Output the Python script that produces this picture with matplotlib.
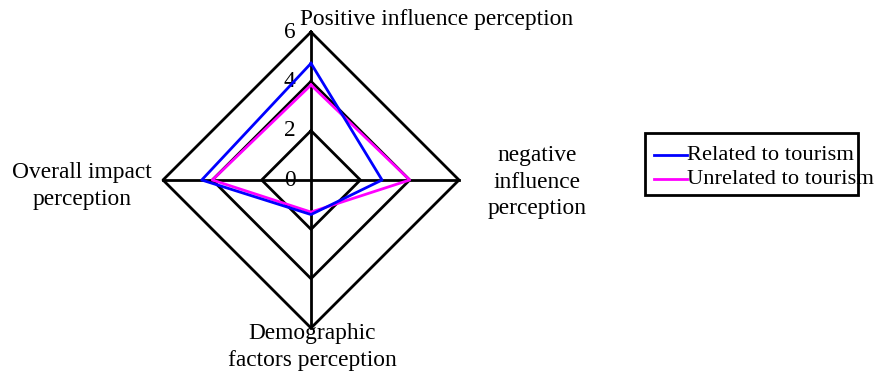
import numpy as np
import matplotlib.pyplot as plt
from matplotlib.patches import Rectangle

plt.rcParams['font.family'] = ['Liberation Serif', 'DejaVu Serif']

# data
categories = ['Positive influence perception', 'negative\ninfluence\nperception',
              'Demographic\nfactors perception', 'Overall impact\nperception']
related = [4.73, 2.88, 1.40, 4.43]
unrelated = [3.85, 4.0, 1.30, 4.0]
grid_levels = [2, 4, 6]
tick_labels = ['0', '2', '4', '6']

# pixel geometry of the reference
W, H = 877, 373
cx, cy = 311, 180
unit = 148 / 6
FS = 16.8


def px(x, y):
    # pixel (from top-left) -> data units
    return (x - cx) / unit, (cy - y) / unit


fig = plt.figure(figsize=(W / 100, H / 100), dpi=100)
ax = fig.add_axes([0, 0, 1, 1])
x0, y1 = px(0, 0)
x1, y0 = px(W, H)
ax.set_xlim(x0, x1)
ax.set_ylim(y0, y1)
ax.axis('off')

angles = np.pi / 2 - np.arange(len(categories)) * np.pi / 2


def closed(vals):
    v = np.append(vals, vals[0])
    a = np.append(angles, angles[0])
    return v * np.cos(a), v * np.sin(a)


# grid diamonds and spokes
for lev in grid_levels:
    gx, gy = closed(np.full(len(categories), lev))
    ax.plot(gx, gy, color='black', lw=2, zorder=1)
for a in angles:
    ax.plot([0, 6 * np.cos(a)], [0, 6 * np.sin(a)], color='black', lw=2, zorder=1)

# tick labels along the top spoke
for i, t in enumerate(tick_labels):
    ax.text(-0.62, 2 * i, t, ha='right', va='center', fontsize=FS)

# series
rx, ry = closed(related)
ux, uy = closed(unrelated)
ax.plot(rx, ry, color='#0000ff', lw=2, zorder=3)
ax.plot(ux, uy, color='#ff00ff', lw=2, zorder=2)

# category labels
label_pos = [(437, 19), (537, 182), (312, 347), (82, 186)]
for name, (lx, ly) in zip(categories, label_pos):
    tx, ty = px(lx, ly)
    ax.text(tx, ty, name, ha='center', va='center', fontsize=FS, linespacing=1.32)

# legend drawn by hand (text spills over the frame like in the original)
bx, by = px(645, 195)
bx2, by2 = px(858, 133)
ax.add_patch(Rectangle((bx, by), bx2 - bx, by2 - by, fill=False,
                       edgecolor='black', lw=2, zorder=4))
for lab, col, ly in [('Related to tourism', '#0000ff', 155),
                     ('Unrelated to tourism', '#ff00ff', 179)]:
    lx0, yy = px(654, ly)
    lx1, _ = px(687, ly)
    ax.plot([lx0, lx1], [yy, yy], color=col, lw=2, zorder=5)
    ax.text(lx1, yy, lab, ha='left', va='center', fontsize=16.2, zorder=5)

fig.savefig('out.png', dpi=100)
